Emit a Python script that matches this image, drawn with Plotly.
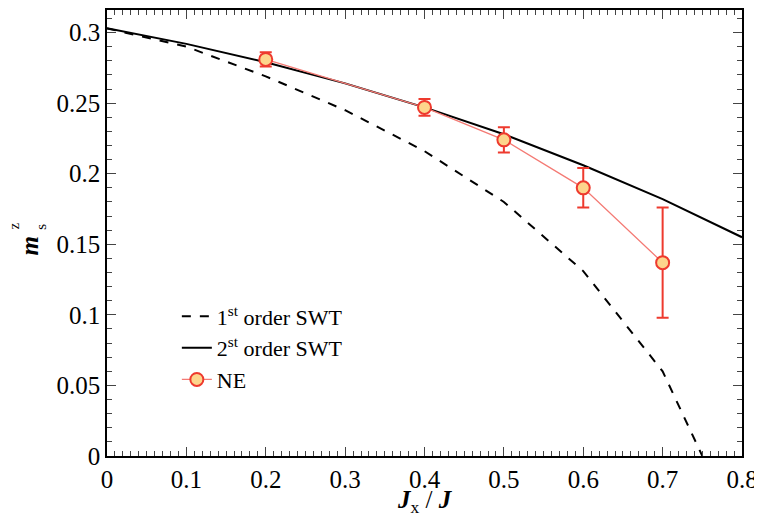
import plotly.graph_objects as go

# 1st order SWT
swt1_x = [0.0, 0.1, 0.2, 0.3, 0.4, 0.5, 0.6, 0.7, 0.75]
swt1_y = [0.303, 0.290, 0.269, 0.245, 0.216, 0.180, 0.131, 0.060, 0.0]
# 2nd order SWT
swt2_x = [0.0, 0.1, 0.2, 0.3, 0.4, 0.5, 0.6, 0.7, 0.8]
swt2_y = [0.303, 0.292, 0.279, 0.264, 0.247, 0.228, 0.206, 0.182, 0.155]
# NE data
ne_x = [0.2, 0.4, 0.5, 0.6, 0.7]
ne_y = [0.281, 0.247, 0.224, 0.190, 0.137]
ne_err = [0.005, 0.006, 0.009, 0.014, 0.039]

xticks = [0, 0.1, 0.2, 0.3, 0.4, 0.5, 0.6, 0.7, 0.8]
yticks = [0, 0.05, 0.1, 0.15, 0.2, 0.25, 0.3]

font = "Liberation Serif, Times New Roman, serif"

fig = go.Figure()
fig.add_trace(go.Scatter(x=swt1_x, y=swt1_y, mode="lines",
                         line=dict(color="black", width=2, dash="dash"),
                         name="1<sup>st</sup> order SWT"))
fig.add_trace(go.Scatter(x=swt2_x, y=swt2_y, mode="lines",
                         line=dict(color="black", width=2),
                         name="2<sup>st</sup> order SWT"))
fig.add_trace(go.Scatter(x=ne_x, y=ne_y, mode="lines+markers",
                         line=dict(color="#F47A74", width=1.3),
                         marker=dict(size=13, color="#FDD58C",
                                     line=dict(color="#EE3A2E", width=2)),
                         error_y=dict(type="data", array=ne_err, color="#EE3A2E",
                                      thickness=2, width=6),
                         name="NE"))

axis_common = dict(showline=True, linecolor="black", linewidth=1.5, mirror="ticks",
                   ticks="inside", ticklen=9, tickwidth=1.2, tickcolor="#444",
                   showgrid=False, zeroline=False, automargin=False,
                   tickfont=dict(family=font, size=25, color="black"))

fig.update_xaxes(range=[0, 0.8], tickvals=xticks,
                 ticktext=["0", "0.1", "0.2", "0.3", "0.4", "0.5", "0.6", "0.7", "0.8"],
                 minor=dict(dtick=0.01, ticks="inside", ticklen=5, tickcolor="#444", tickwidth=1),
                 **axis_common)
fig.update_yaxes(range=[0, 0.316], tickvals=yticks,
                 ticktext=["0", "0.05", "0.1", "0.15", "0.2", "0.25", "0.3"],
                 minor=dict(dtick=0.01, ticks="inside", ticklen=5, tickcolor="#444", tickwidth=1),
                 **axis_common)

fig.add_annotation(text="<b><i>J</i></b><sub>x</sub> / <b><i>J</i></b>", xref="paper", yref="paper",
                   x=0.5, y=-0.102, xanchor="center", yanchor="middle", showarrow=False,
                   font=dict(family=font, size=25, color="black"))
fig.add_annotation(text="<b><i>m</i></b>", xref="paper", yref="paper",
                   x=-0.122, y=0.471, xanchor="center", yanchor="middle", showarrow=False,
                   textangle=-90, font=dict(family=font, size=25, color="black"))
fig.add_annotation(text="s", xref="paper", yref="paper",
                   x=-0.103, y=0.513, xanchor="center", yanchor="middle", showarrow=False,
                   textangle=-90, font=dict(family=font, size=15, color="black"))
fig.add_annotation(text="z", xref="paper", yref="paper",
                   x=-0.147, y=0.516, xanchor="center", yanchor="middle", showarrow=False,
                   textangle=-90, font=dict(family=font, size=15, color="black"))

fig.update_layout(width=762, height=513,
                  margin=dict(l=99, r=28, t=2, b=65),
                  plot_bgcolor="white", paper_bgcolor="white",
                  legend=dict(x=0.11, y=0.36, xanchor="left", yanchor="top",
                              bgcolor="rgba(0,0,0,0)",
                              font=dict(family=font, size=22, color="black"),
                              tracegroupgap=0, itemwidth=30),
                  showlegend=True)

fig.write_html("out.html")
